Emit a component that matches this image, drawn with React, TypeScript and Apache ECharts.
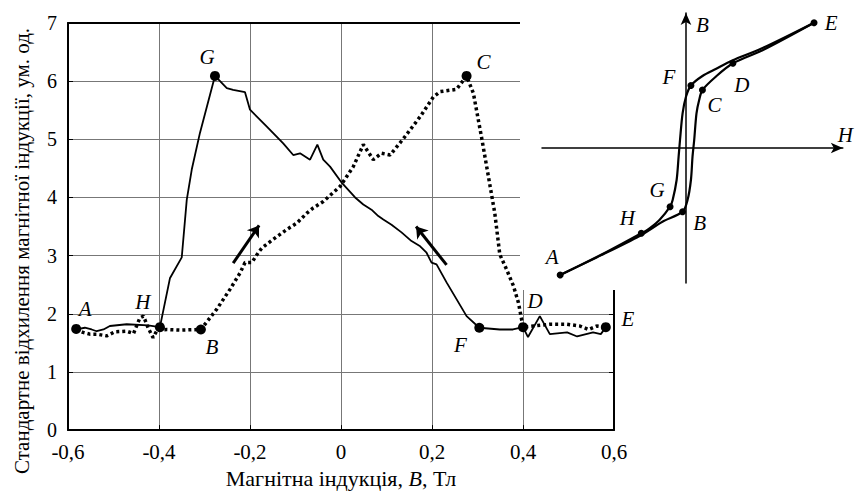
import React, { useEffect, useRef } from 'react';
import * as echarts from 'echarts';

const FONT = 'Liberation Serif';

// x tick setup (Tl) and y (arb. units)
const xMin = -0.6;
const xMax = 0.6;
const xStep = 0.2;
const yMin = 0;
const yMax = 7;
const yStep = 1;

// Solid branch: E -> F -> G -> H -> A (decreasing induction)
const solidBranch: [number, number][] = [
  [0.582, 1.77], [0.571, 1.65], [0.554, 1.68], [0.519, 1.61], [0.497, 1.68],
  [0.459, 1.65], [0.437, 1.96], [0.411, 1.6], [0.4, 1.77], [0.378, 1.73],
  [0.349, 1.73], [0.304, 1.76], [0.276, 1.96], [0.232, 2.54], [0.21, 2.85],
  [0.199, 2.88], [0.188, 3.05], [0.174, 3.16], [0.155, 3.25], [0.133, 3.4],
  [0.111, 3.53], [0.093, 3.62], [0.082, 3.68], [0.067, 3.79], [0.049, 3.88],
  [0.031, 4.0], [0.002, 4.25], [-0.024, 4.53], [-0.039, 4.65], [-0.052, 4.91],
  [-0.068, 4.65], [-0.09, 4.76], [-0.105, 4.73], [-0.127, 4.93], [-0.163, 5.22],
  [-0.2, 5.51], [-0.211, 5.81], [-0.237, 5.85], [-0.251, 5.88], [-0.277, 6.09],
  [-0.31, 5.11], [-0.328, 4.48], [-0.339, 3.96], [-0.35, 2.97], [-0.376, 2.61],
  [-0.398, 1.77], [-0.424, 1.8], [-0.471, 1.82], [-0.508, 1.79], [-0.522, 1.73],
  [-0.537, 1.7], [-0.548, 1.73], [-0.563, 1.76], [-0.582, 1.73],
];

// Dotted branch: A -> B -> C -> D -> E (increasing induction)
const dottedBranch: [number, number][] = [
  [-0.582, 1.73], [-0.567, 1.68], [-0.552, 1.65], [-0.537, 1.65], [-0.515, 1.62],
  [-0.497, 1.69], [-0.471, 1.7], [-0.456, 1.66], [-0.442, 1.93], [-0.434, 1.96],
  [-0.424, 1.76], [-0.413, 1.59], [-0.404, 1.72], [-0.383, 1.73], [-0.354, 1.72],
  [-0.308, 1.73], [-0.273, 2.08], [-0.244, 2.42], [-0.222, 2.7], [-0.211, 2.88],
  [-0.196, 2.88], [-0.182, 3.05], [-0.174, 3.13], [-0.149, 3.28], [-0.119, 3.45],
  [-0.097, 3.56], [-0.075, 3.73], [-0.061, 3.82], [-0.039, 3.93], [-0.002, 4.19],
  [0.027, 4.53], [0.049, 4.91], [0.071, 4.65], [0.089, 4.76], [0.108, 4.73],
  [0.137, 5.01], [0.174, 5.39], [0.203, 5.73], [0.218, 5.82], [0.254, 5.86],
  [0.276, 6.09], [0.291, 5.79], [0.309, 5.03], [0.324, 4.36], [0.338, 3.73],
  [0.349, 3.02], [0.364, 2.76], [0.379, 2.48], [0.39, 2.19], [0.397, 1.9],
  [0.4, 1.77], [0.423, 1.79], [0.459, 1.82], [0.496, 1.82], [0.525, 1.79],
  [0.544, 1.73], [0.562, 1.79], [0.582, 1.77],
];

// Marked points on the main chart
const mainPointNames = ['A', 'H', 'B', 'G', 'C', 'F', 'D', 'E'];
const mainPointX = [-0.582, -0.398, -0.308, -0.277, 0.276, 0.304, 0.4, 0.582];
const mainPointY = [1.74, 1.77, 1.73, 6.09, 6.09, 1.76, 1.77, 1.77];

// Direction arrows [start, end]
const arrowUp: [number, number][] = [[-0.237, 2.87], [-0.18, 3.52]];
const arrowDown: [number, number][] = [[0.232, 2.84], [0.165, 3.5]];

// Inset hysteresis loop (schematic units H, B)
const insetUpper: [number, number][] = [
  [12.9, 12.53], [7.66, 9.97], [4.66, 8.75], [3.0, 7.9], [1.66, 7.2],
  [0.5, 6.25], [0.0, 5.13], [-0.34, 3.47], [-0.6, 0.8], [-0.74, -0.87],
  [-0.94, -3.2], [-1.34, -5.2], [-1.6, -5.87], [-2.67, -7.2], [-3.67, -8.03],
  [-4.5, -8.53], [-8.0, -10.4], [-12.67, -12.7],
];
const insetLower: [number, number][] = [
  [-12.67, -12.7], [-9.0, -10.95], [-4.67, -8.8], [-2.37, -7.37], [-0.34, -6.37],
  [0.16, -5.2], [0.5, -3.2], [0.66, -0.87], [0.83, 0.8], [1.06, 3.47],
  [1.33, 4.8], [1.66, 5.8], [3.0, 7.13], [4.73, 8.47], [7.66, 9.75],
  [12.9, 12.53],
];
const insetPointNames = ['E', 'F', 'D', 'C', 'G', 'H', 'B', 'A'];
const insetPointH = [12.9, 0.5, 4.73, 1.66, -1.6, -4.5, -0.34, -12.67];
const insetPointB = [12.53, 6.25, 8.47, 5.8, -5.87, -8.53, -6.37, -12.7];

// label placements (pixels), kept apart from the data
const mainLabelOffset: Record<string, [number, number]> = {
  A: [9, -20], H: [-17, -25], B: [11, 18], G: [-8, -19],
  C: [17, -14], D: [12, -26], F: [-19, 17], E: [22, -8],
};
const insetLabelOffset: Record<string, [number, number]> = {
  E: [17, 0], F: [-22, -9], D: [9, 22], C: [12, 15],
  G: [-13, -17], H: [-14, -15], B: [17, 11], A: [-8, -18],
};

const xLabel = (v: number) => (Math.abs(v) < 1e-9 ? '0' : v.toFixed(1).replace('.', ','));

export default function App() {
  const ref = useRef<HTMLDivElement>(null);
  useEffect(() => {
    document.body.style.margin = '0';
    if (!ref.current) return;
    const chart = echarts.init(ref.current, undefined, { renderer: 'svg' });
    const labelStyle = {
      fontFamily: FONT, fontStyle: 'italic' as const, fontWeight: 'normal' as const,
      fontSize: 21, color: '#000',
    };
    const option: any = {
      animation: false,
      backgroundColor: '#fff',
      textStyle: { fontFamily: FONT },
      grid: [
        { left: 68, top: 23, width: 546, height: 408 },
        { left: 542, top: 13, width: 303, height: 270 },
      ],
      xAxis: [
        {
          gridIndex: 0, type: 'value', min: xMin, max: xMax, interval: xStep, position: 'bottom',
          axisLine: { onZero: false, lineStyle: { color: '#000', width: 2 } },
          axisTick: { inside: true, length: 5, lineStyle: { color: '#000' } },
          axisLabel: { formatter: xLabel, fontFamily: FONT, fontSize: 21, color: '#000', margin: 11 },
          splitLine: { lineStyle: { color: '#777', width: 1 } },
          name: 'Магнітна індукція, {i|B}, Тл', nameLocation: 'middle', nameGap: 35,
          nameTextStyle: {
            fontFamily: FONT, fontSize: 22, color: '#000',
            rich: { i: { fontFamily: FONT, fontSize: 22, color: '#000', fontStyle: 'italic' } },
          },
        },
        {
          gridIndex: 0, type: 'value', min: xMin, max: xMax, interval: xStep, position: 'top',
          axisLine: { onZero: false, lineStyle: { color: '#000', width: 2 } },
          axisTick: { show: false }, axisLabel: { show: false }, splitLine: { show: false },
        },
        {
          gridIndex: 1, type: 'value', min: -14.5, max: 15.8, z: 5,
          axisLine: { onZero: true, symbol: ['none', 'arrow'], symbolSize: [8, 12], lineStyle: { color: '#000', width: 1.5 } },
          axisTick: { show: false }, axisLabel: { show: false }, splitLine: { show: false },
          name: 'H', nameLocation: 'end', nameGap: -5,
          nameTextStyle: { ...labelStyle, align: 'left', verticalAlign: 'bottom', padding: [0, 0, 3, 0] },
        },
      ],
      yAxis: [
        {
          gridIndex: 0, type: 'value', min: yMin, max: yMax, interval: yStep, position: 'left',
          axisLine: { onZero: false, lineStyle: { color: '#000', width: 2 } },
          axisTick: { inside: true, length: 5, lineStyle: { color: '#000' } },
          axisLabel: { fontFamily: FONT, fontSize: 20, color: '#000', margin: 11 },
          splitLine: { lineStyle: { color: '#777', width: 1 } },
        },
        {
          gridIndex: 0, type: 'value', min: yMin, max: yMax, interval: yStep, position: 'right',
          axisLine: { onZero: false, lineStyle: { color: '#000', width: 2 } },
          axisTick: { inside: true, length: 5, lineStyle: { color: '#000' } },
          axisLabel: { show: false }, splitLine: { show: false },
        },
        {
          gridIndex: 1, type: 'value', min: -13.5, max: 13.5, z: 5,
          axisLine: { onZero: true, symbol: ['none', 'arrow'], symbolSize: [8, 12], lineStyle: { color: '#000', width: 1.5 } },
          axisTick: { show: false }, axisLabel: { show: false }, splitLine: { show: false },
          name: 'B', nameLocation: 'end', nameGap: -12,
          nameTextStyle: { ...labelStyle, align: 'left', verticalAlign: 'middle', padding: [0, 0, 0, 10] },
        },
      ],
      graphic: {
        elements: [
          {
            type: 'rect', z: 1, shape: { x: 520, y: 0, width: 336, height: 290 },
            style: { fill: '#fff' },
          },
          {
            type: 'text', x: 22, y: 251, rotation: Math.PI / 2, z: 3,
            style: {
              text: 'Стандартне відхилення магнітної індукції, ум. од.',
              fontFamily: FONT, fontSize: 21, fill: '#000',
              textAlign: 'center', textVerticalAlign: 'middle', align: 'center', verticalAlign: 'middle',
            },
          },
        ],
      },
      series: [
        {
          type: 'line', xAxisIndex: 0, yAxisIndex: 0, data: solidBranch, showSymbol: false,
          lineStyle: { color: '#000', width: 1.8 }, z: 3,
        },
        {
          type: 'line', xAxisIndex: 0, yAxisIndex: 0, data: dottedBranch, showSymbol: false,
          lineStyle: { color: '#000', width: 3.5, type: [3, 3] }, z: 3,
        },
        {
          type: 'lines', coordinateSystem: 'cartesian2d', xAxisIndex: 0, yAxisIndex: 0, z: 4,
          symbol: ['none', 'arrow'], symbolSize: 11,
          lineStyle: { color: '#000', width: 3, opacity: 1 },
          data: [{ coords: arrowUp }, { coords: arrowDown }],
        },
        {
          type: 'scatter', xAxisIndex: 0, yAxisIndex: 0, symbolSize: 10, z: 5,
          itemStyle: { color: '#000', opacity: 1 },
          data: mainPointNames.map((n, i) => ({
            name: n, value: [mainPointX[i], mainPointY[i]],
            label: { offset: mainLabelOffset[n] },
          })),
          label: { show: true, position: 'inside', formatter: '{b}', ...labelStyle },
        },
        {
          type: 'line', xAxisIndex: 2, yAxisIndex: 2, data: insetUpper, showSymbol: false, smooth: 0.3,
          lineStyle: { color: '#000', width: 2.2 }, z: 6,
        },
        {
          type: 'line', xAxisIndex: 2, yAxisIndex: 2, data: insetLower, showSymbol: false, smooth: 0.3,
          lineStyle: { color: '#000', width: 2.2 }, z: 6,
        },
        {
          type: 'scatter', xAxisIndex: 2, yAxisIndex: 2, symbolSize: 7, z: 7,
          itemStyle: { color: '#000', opacity: 1 },
          data: insetPointNames.map((n, i) => ({
            name: n, value: [insetPointH[i], insetPointB[i]],
            label: { offset: insetLabelOffset[n] },
          })),
          label: { show: true, position: 'inside', formatter: '{b}', ...labelStyle },
        },
      ],
    };
    chart.setOption(option);
    return () => chart.dispose();
  }, []);
  return <div ref={ref} style={{ width: 856, height: 494 }} />;
}
